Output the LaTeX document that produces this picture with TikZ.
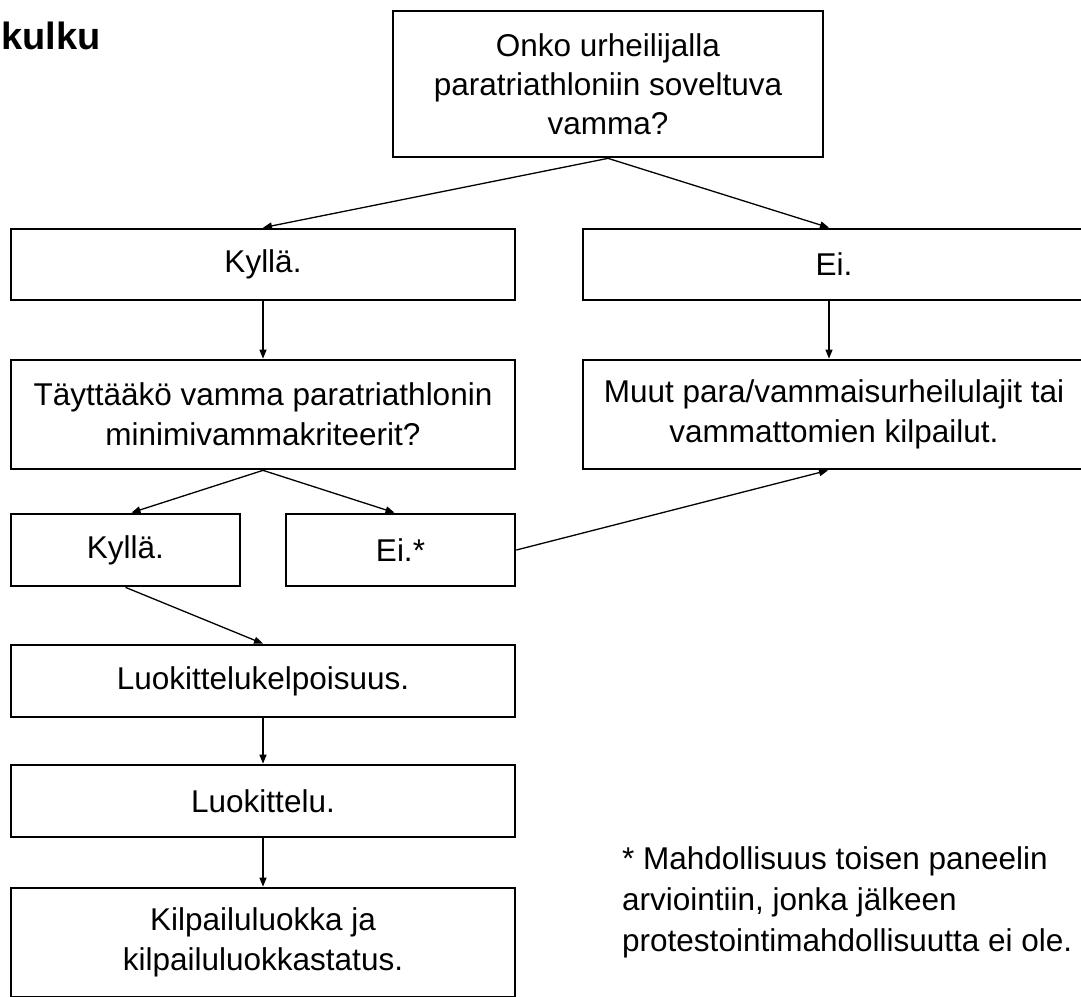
\documentclass[tikz,border=0pt]{standalone}
\usepackage{fontspec}
\setmainfont{Liberation Sans}
\usetikzlibrary{arrows.meta}
\begin{document}
\begin{tikzpicture}[x=1pt,y=-1pt,
  box/.style={draw=black, line width=2.7pt, rectangle, inner sep=0pt, align=center, font=\fontsize{31.5}{40}\selectfont},
  conn/.style={line width=1.3pt, -{Triangle[length=9pt,width=7pt]}},
]
\useasboundingbox (0,0) rectangle (1081,996);
\fill[white] (0,0) rectangle (1081,996);
\node[font=\fontsize{38}{46}\selectfont\bfseries, anchor=base west, inner sep=0pt] (title) at (1,49) {kulku};

\node[box, minimum width=430pt, minimum height=146pt, font=\fontsize{31.5}{39}\selectfont] (q1) at (608,84) {Onko urheilijalla\\paratriathloniin soveltuva\\vamma?};
\node[box, minimum width=504pt, minimum height=71pt] (yes1) at (263,264.5) {Kyllä.};
\node[box, minimum width=502pt, minimum height=71pt] (no1) at (834,264.5) {Ei.};
\node[box, minimum width=504pt, minimum height=109pt] (q2) at (263,414.5) {Täyttääkö vamma paratriathlonin\\minimivammakriteerit?};
\node[box, minimum width=502pt, minimum height=109pt] (other) at (834,414.5) {Muut para/vammaisurheilulajit tai\\vammattomien kilpailut.};
\node[box, minimum width=229pt, minimum height=72pt] (yes2) at (125.5,550) {Kyllä.};
\node[box, minimum width=229pt, minimum height=72pt] (no2) at (400.5,550) {Ei.*};
\node[box, minimum width=504pt, minimum height=72pt] (elig) at (263,681) {Luokittelukelpoisuus.};
\node[box, minimum width=504pt, minimum height=72pt] (class) at (263,801) {Luokittelu.};
\node[box, minimum width=504pt, minimum height=109pt] (status) at (263,942.5) {Kilpailuluokka ja\\kilpailuluokkastatus.};

\node[anchor=north west, inner sep=0pt, align=left, font=\fontsize{31.5}{41}\selectfont] (note) at (622,846) {* Mahdollisuus toisen paneelin\\arviointiin, jonka jälkeen\\protestointimahdollisuutta ei ole.};

\draw[conn] (q1.south) -- (yes1.north);
\draw[conn] (q1.south) -- ([xshift=-5pt]no1.north);
\draw[conn] (yes1.south) -- (q2.north);
\draw[conn] ([xshift=-5pt]no1.south) -- ([xshift=-5pt]other.north);
\draw[conn] (q2.south) -- ([xshift=6pt]yes2.north);
\draw[conn] (q2.south) -- ([xshift=-6pt]no2.north);
\draw[conn] (yes2.south) -- (elig.north);
\draw[conn] (elig.south) -- (class.north);
\draw[conn] (class.south) -- (status.north);
\draw[conn] (no2.east) -- ([xshift=-6pt]other.south);
\end{tikzpicture}
\end{document}
